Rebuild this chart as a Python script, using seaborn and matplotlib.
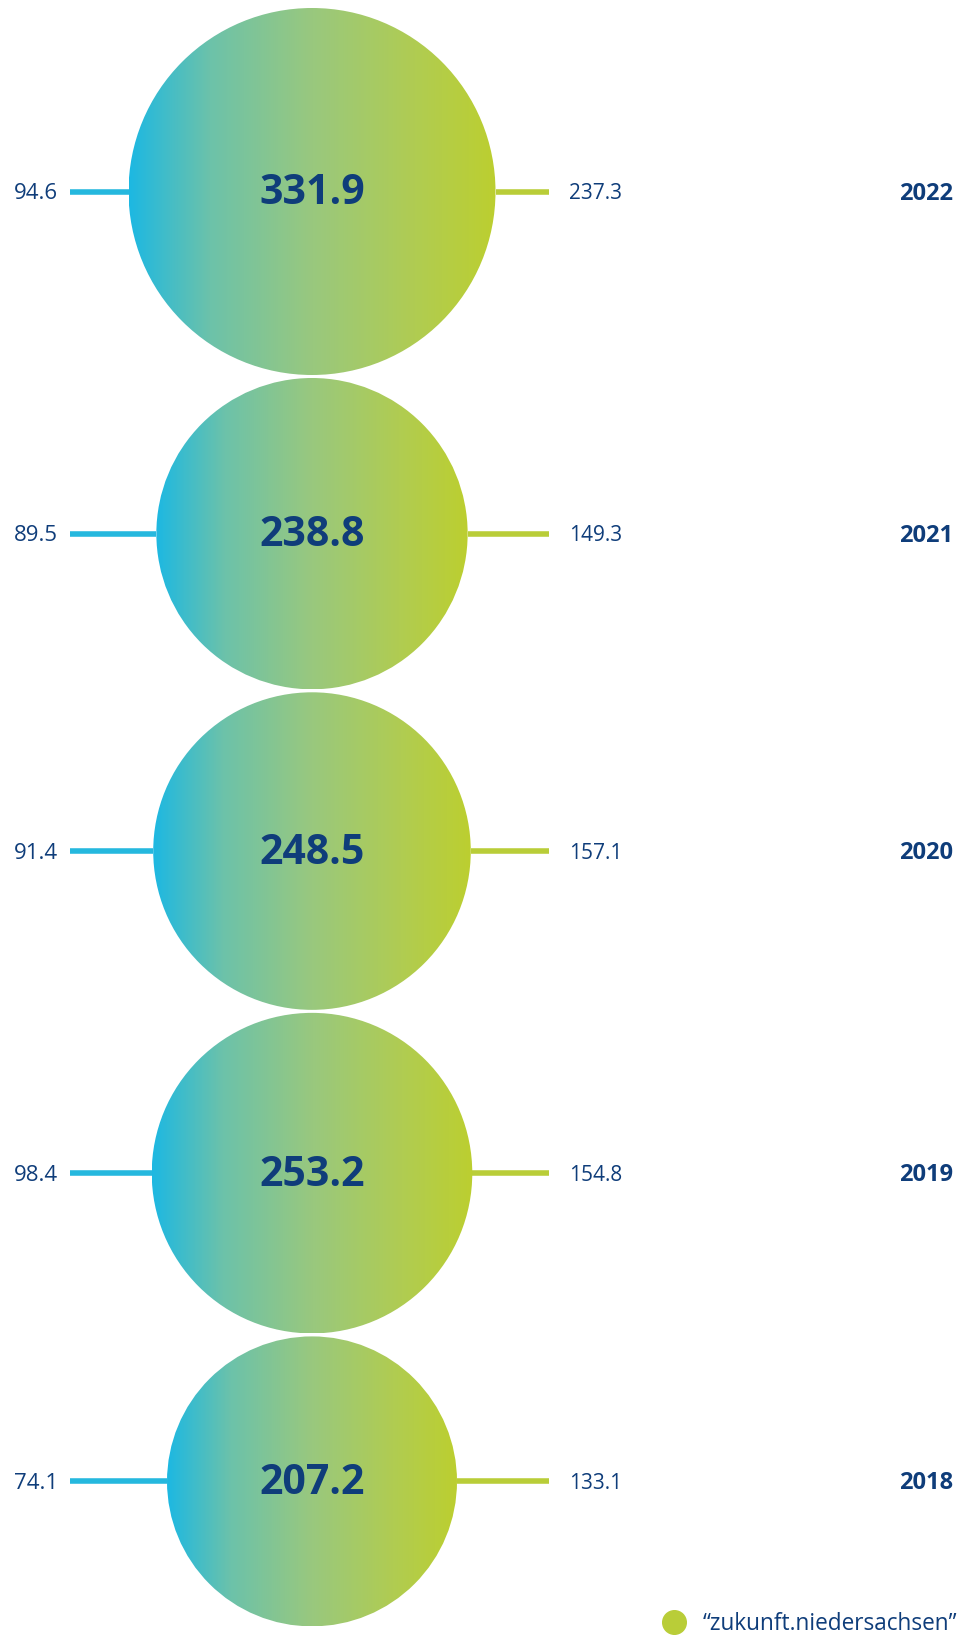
import numpy as np
import pandas as pd
import matplotlib
matplotlib.use("Agg")
import matplotlib.pyplot as plt
from matplotlib.colors import LinearSegmentedColormap
from matplotlib.patches import Circle
from matplotlib.lines import Line2D
import seaborn as sns

# Data (top to bottom)
years = ["2022", "2021", "2020", "2019", "2018"]
totals = [331.9, 238.8, 248.5, 253.2, 207.2]
left_values = [94.6, 89.5, 91.4, 98.4, 74.1]
right_values = [237.3, 149.3, 157.1, 154.8, 133.1]
legend_label = "“zukunft.niedersachsen”"

W, H = 959, 1638
sns.set_theme(style="white")
plt.rcParams["font.family"] = ["Open Sans", "DejaVu Sans"]

fig = plt.figure(figsize=(W / 100, H / 100), dpi=100)
ax = fig.add_axes([0, 0, 1, 1])

navy = "#0f3d7a"
cyan = "#25b8de"
lime = "#b9cd38"
grad = LinearSegmentedColormap.from_list(
    "cyan_lime",
    [(0.0, "#1db8e2"), (0.22, "#6cc2aa"), (0.5, "#99c87e"),
     (0.78, "#b0cc52"), (1.0, "#bccf30")],
)

# Circle area proportional to the total
scale = 183.5 / np.sqrt(max(totals))
radii = scale * np.sqrt(np.array(totals))
cx = 312
left_start, right_end = 70, 549
gap = 3
centers = []
y = 8
for r in radii:
    centers.append(y + r)
    y += 2 * r + gap

# Connector lines on both sides of each circle
rows = []
for yr, r, cy in zip(years, radii, centers):
    rows += [dict(seg=f"{yr}L", side="left", x=left_start, y=cy),
             dict(seg=f"{yr}L", side="left", x=cx - r, y=cy),
             dict(seg=f"{yr}R", side="right", x=cx + r, y=cy),
             dict(seg=f"{yr}R", side="right", x=right_end, y=cy)]
lines = pd.DataFrame(rows)
sns.lineplot(data=lines, x="x", y="y", hue="side", units="seg",
             estimator=None, sort=False, palette={"left": cyan, "right": lime},
             linewidth=4, legend=False, ax=ax, solid_capstyle="butt")

gradient = np.linspace(0, 1, 512).reshape(1, -1)
for yr, tot, lv, rv, r, cy in zip(years, totals, left_values, right_values, radii, centers):
    circ = Circle((cx, cy), r, facecolor="none", edgecolor="none", transform=ax.transData)
    ax.add_patch(circ)
    im = ax.imshow(gradient, cmap=grad, aspect="auto", interpolation="bilinear",
                   extent=[cx - r, cx + r, cy + r, cy - r], zorder=3)
    im.set_clip_path(circ)
    ax.text(cx, cy + 2, f"{tot:.1f}", ha="center", va="center", fontsize=29.5,
            fontweight="bold", color=navy, zorder=4)
    ax.text(58, cy + 2, f"{lv:.1f}", ha="right", va="center", fontsize=16, color=navy)
    ax.text(569, cy + 2, f"{rv:.1f}", ha="left", va="center", fontsize=15, color=navy)
    ax.text(953, cy + 2, yr, ha="right", va="center", fontsize=17, fontweight="bold",
            color=navy)

handle = Line2D([], [], marker="o", linestyle="none", markersize=17,
                markerfacecolor=lime, markeredgecolor=lime)
leg = ax.legend([handle], [legend_label], loc="lower right", bbox_to_anchor=(1.0, 0.0),
                frameon=False, fontsize=16.3, handletextpad=0.25, borderaxespad=0.05,
                borderpad=0.05)
for t in leg.get_texts():
    t.set_color(navy)

ax.set_xlim(0, W)
ax.set_ylim(H, 0)
ax.axis("off")
fig.savefig("out.png", dpi=100, facecolor="white")
